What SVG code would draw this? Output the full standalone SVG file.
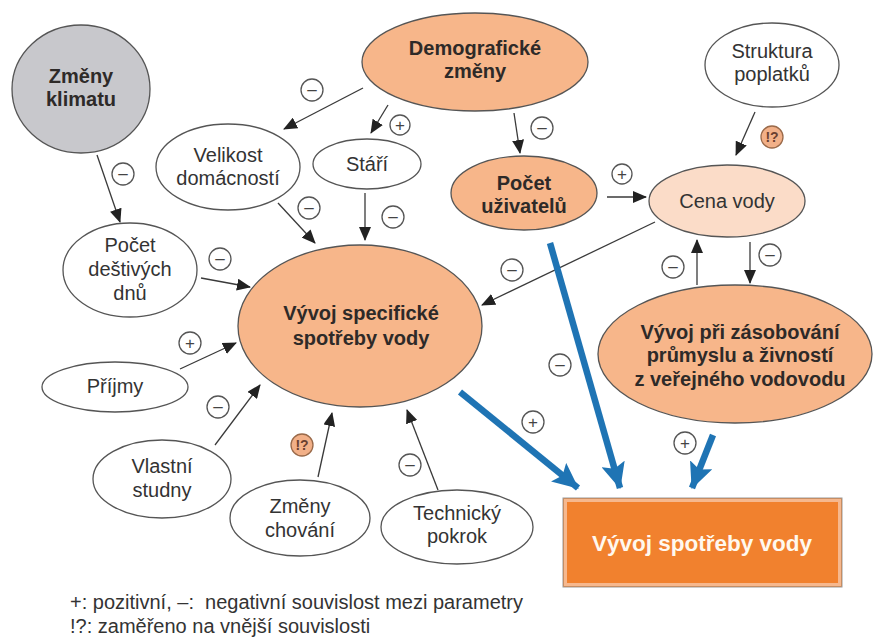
<svg xmlns="http://www.w3.org/2000/svg" width="873" height="637" viewBox="0 0 873 637">
<style>
  .n { stroke: #555; stroke-width: 1.3; }
  .w { fill: #ffffff; }
  .o { fill: #f7b68a; }
  .p { fill: #fbdcc8; }
  .g { fill: #c8c8cc; }
  text { font-family: "Liberation Sans", Arial, sans-serif; fill: #333; text-anchor: middle; }
  .t { font-size: 20px; }
  .b { font-size: 20px; font-weight: bold; fill: #2e2a28; }
  .c { stroke: #3a3a3a; stroke-width: 1.3; fill: none; marker-end: url(#ah); }
  .bl { stroke: #1f74b4; stroke-width: 6.5; fill: none; marker-end: url(#bh); }
  .sg { fill: #fff; stroke: #555; stroke-width: 1.3; }
  .sq { fill: #f2b088; stroke: #9a6a4a; stroke-width: 1.3; }
  .st { font-size: 17px; fill: #444; }
  .qt { font-size: 14px; font-weight: bold; fill: #6a4030; }
  .lg { font-size: 20px; text-anchor: start; fill: #333; }
</style>
<defs>
  <marker id="ah" markerWidth="14" markerHeight="12" refX="13" refY="6" orient="auto" markerUnits="userSpaceOnUse">
    <path d="M0,0 L14,6 L0,12 Z" fill="#222"/>
  </marker>
  <marker id="bh" markerWidth="26" markerHeight="24" refX="25" refY="12" orient="auto" markerUnits="userSpaceOnUse">
    <path d="M0,0 L26,12 L0,24 L5,12 Z" fill="#1f74b4"/>
  </marker>
</defs>
<rect width="873" height="637" fill="#ffffff"/>

<g id="connectors">
  <line class="c" x1="97" y1="155" x2="120" y2="222"/>
  <line class="c" x1="363" y1="88" x2="284" y2="129"/>
  <line class="c" x1="388" y1="105" x2="371" y2="133"/>
  <line class="c" x1="514" y1="113" x2="520" y2="153"/>
  <line class="c" x1="278" y1="203" x2="315" y2="243"/>
  <line class="c" x1="365" y1="193" x2="365" y2="240"/>
  <line class="c" x1="201" y1="278" x2="250" y2="287"/>
  <line class="c" x1="180" y1="369" x2="236" y2="343"/>
  <line class="c" x1="215" y1="445" x2="260" y2="385"/>
  <line class="c" x1="318" y1="477" x2="332" y2="413"/>
  <line class="c" x1="438" y1="490" x2="407" y2="410"/>
  <line class="c" x1="607" y1="197" x2="646" y2="197"/>
  <line class="c" x1="755" y1="112" x2="736" y2="155"/>
  <line class="c" x1="655" y1="222" x2="482" y2="305"/>
  <line class="c" x1="750" y1="242" x2="750" y2="283"/>
  <line class="c" x1="697" y1="285" x2="697" y2="240"/>
  <line class="bl" x1="460" y1="392" x2="578" y2="488"/>
  <line class="bl" x1="550" y1="243" x2="620" y2="488"/>
  <line class="bl" x1="713" y1="435" x2="692" y2="488"/>
</g>

<g id="signs">
  <circle class="sg" cx="123" cy="174" r="11"/><text class="st" x="123" y="179">–</text>
  <circle class="sg" cx="312" cy="90" r="11"/><text class="st" x="312" y="95">–</text>
  <circle class="sg" cx="400" cy="125" r="10"/><text class="st" x="400" y="131">+</text>
  <circle class="sg" cx="542" cy="128" r="11"/><text class="st" x="542" y="133">–</text>
  <circle class="sg" cx="309" cy="208" r="11"/><text class="st" x="309" y="213">–</text>
  <circle class="sg" cx="393" cy="217" r="11"/><text class="st" x="393" y="222">–</text>
  <circle class="sg" cx="220" cy="259" r="11"/><text class="st" x="220" y="264">–</text>
  <circle class="sg" cx="190" cy="343" r="11"/><text class="st" x="190" y="349">+</text>
  <circle class="sg" cx="218" cy="407" r="11"/><text class="st" x="218" y="412">–</text>
  <circle class="sq" cx="302" cy="445" r="11"/><text class="qt" x="302" y="450">!?</text>
  <circle class="sg" cx="410" cy="465" r="11"/><text class="st" x="410" y="470">–</text>
  <circle class="sg" cx="622" cy="174" r="10"/><text class="st" x="622" y="180">+</text>
  <circle class="sq" cx="772" cy="137" r="11"/><text class="qt" x="772" y="142">!?</text>
  <circle class="sg" cx="512" cy="270" r="11"/><text class="st" x="512" y="275">–</text>
  <circle class="sg" cx="673" cy="267" r="11"/><text class="st" x="673" y="272">–</text>
  <circle class="sg" cx="770" cy="255" r="11"/><text class="st" x="770" y="260">–</text>
  <circle class="sg" cx="560" cy="365" r="11"/><text class="st" x="560" y="370">–</text>
  <circle class="sg" cx="533" cy="422" r="11"/><text class="st" x="533" y="428">+</text>
  <circle class="sg" cx="685" cy="443" r="11"/><text class="st" x="685" y="449">+</text>
</g>

<g id="zmeny-klimatu">
  <ellipse class="n g" cx="81" cy="89" rx="69" ry="64"/>
  <text class="b" x="81" y="83">Změny</text>
  <text class="b" x="81" y="106">klimatu</text>
</g>
<g id="demograficke-zmeny">
  <ellipse class="n o" cx="475" cy="62" rx="113" ry="49"/>
  <text class="b" x="475" y="55">Demografické</text>
  <text class="b" x="475" y="78">změny</text>
</g>
<g id="velikost-domacnosti">
  <ellipse class="n w" cx="228" cy="167" rx="72" ry="43"/>
  <text class="t" x="228" y="162">Velikost</text>
  <text class="t" x="228" y="185">domácností</text>
</g>
<g id="stari">
  <ellipse class="n w" cx="367" cy="164" rx="54" ry="25"/>
  <text class="t" x="367" y="171">Stáří</text>
</g>
<g id="pocet-destivych-dnu">
  <ellipse class="n w" cx="130" cy="270" rx="67" ry="47"/>
  <text class="t" x="130" y="252">Počet</text>
  <text class="t" x="130" y="276">deštivých</text>
  <text class="t" x="130" y="300">dnů</text>
</g>
<g id="struktura-poplatku">
  <ellipse class="n w" cx="772" cy="65" rx="67" ry="42"/>
  <text class="t" x="772" y="58">Struktura</text>
  <text class="t" x="772" y="81">poplatků</text>
</g>
<g id="pocet-uzivatelu">
  <ellipse class="n o" cx="524" cy="193" rx="73" ry="37"/>
  <text class="b" x="524" y="190">Počet</text>
  <text class="b" x="524" y="213">uživatelů</text>
</g>
<g id="cena-vody">
  <ellipse class="n p" cx="727" cy="201" rx="78" ry="36"/>
  <text class="t" x="727" y="208">Cena vody</text>
</g>
<g id="vyvoj-specificke">
  <ellipse class="n o" cx="360" cy="326" rx="122" ry="81"/>
  <text class="b" x="361" y="320">Vývoj specifické</text>
  <text class="b" x="361" y="345">spotřeby vody</text>
</g>
<g id="vyvoj-pri-zasobovani">
  <ellipse class="n o" cx="735" cy="354" rx="137" ry="69"/>
  <text class="b" x="740" y="339">Vývoj při zásobování</text>
  <text class="b" x="740" y="362">průmyslu a živností</text>
  <text class="b" x="740" y="386">z veřejného vodovodu</text>
</g>
<g id="prijmy">
  <ellipse class="n w" cx="115" cy="387" rx="73" ry="25"/>
  <text class="t" x="115" y="393">Příjmy</text>
</g>
<g id="vlastni-studny">
  <ellipse class="n w" cx="162" cy="479" rx="69" ry="39"/>
  <text class="t" x="162" y="473">Vlastní</text>
  <text class="t" x="162" y="497">studny</text>
</g>
<g id="zmeny-chovani">
  <ellipse class="n w" cx="300" cy="518" rx="70" ry="38"/>
  <text class="t" x="300" y="513">Změny</text>
  <text class="t" x="300" y="537">chování</text>
</g>
<g id="technicky-pokrok">
  <ellipse class="n w" cx="457" cy="527" rx="76" ry="37"/>
  <text class="t" x="457" y="520">Technický</text>
  <text class="t" x="457" y="543">pokrok</text>
</g>
<g id="vyvoj-spotreby-vody">
  <rect x="563" y="498" width="279" height="89" fill="#f1812e" stroke="#999" stroke-width="1"/>
  <rect x="565.5" y="500.5" width="274" height="84" fill="none" stroke="#f6b88e" stroke-width="3"/>
  <text x="702" y="551" style="font-size:22.5px;font-weight:bold;fill:#fff8ee">Vývoj spotřeby vody</text>
</g>

<g id="legend">
  <text class="lg" x="70" y="609" xml:space="preserve">+: pozitivní, –:  negativní souvislost mezi parametry</text>
  <text class="lg" x="70" y="633">!?: zaměřeno na vnější souvislosti</text>
</g>
</svg>
